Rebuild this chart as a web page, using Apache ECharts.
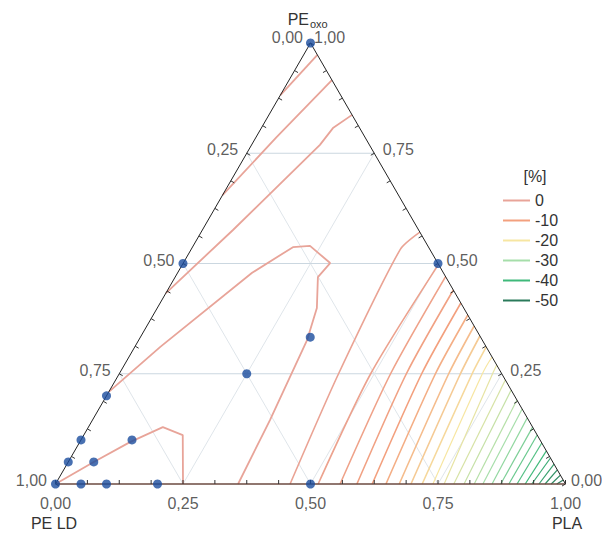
<!DOCTYPE html>
<html><head><meta charset="utf-8">
<script src="https://cdn.jsdelivr.net/npm/echarts@6/dist/echarts.min.js"></script>
<style>html,body{margin:0;padding:0;background:#fff}#c{width:616px;height:534px}</style>
</head><body><div id="c"></div>
<script>
// ---- axis ticks / labels ----
const tickValues = [0, 0.25, 0.5, 0.75, 1];
const tickLabels = ['0,00', '0,25', '0,50', '0,75', '1,00'];
const minorTicks = [0,0.0625,0.125,0.1875,0.25,0.3125,0.375,0.4375,0.5,0.5625,0.625,0.6875,0.75,0.8125,0.875,0.9375,1];
const gridValues = [0.25, 0.5, 0.75];
const axisNames = ['PE LD', 'PLA', 'PE'];
const apexSub = 'oxo';
const legendTitle = '[%]';
// ---- legend ----
const legendLevels = ['0', '-10', '-20', '-30', '-40', '-50'];
const legendColors = ['#e8a499', '#f3a07e', '#f7e6a2', '#a6deaa', '#3fb97a', '#2a7a5a'];
// ---- design points [PLA, PE oxo] ----
const designPoints = [[0,1],[0,0.5],[0.5,0.5],[0,0.2],[0,0.1],[0,0.05],[0,0],[0.05,0],[0.1,0],[0.2,0],[0.5,0],[0.05,0.05],[0.1,0.1],[0.25,0.25],[0.333,0.333]];
// ---- contour lines of level 0 [PLA, PE oxo] ----
const zeroA = [[0.027,0.973],[0,0.882]];
const zeroB = [[0.084,0.916],[0.04,0.786],[0,0.655]];
const zeroC = [[0.163,0.837],[0.1405,0.807],[0.134,0.769],[0.06,0.576],[0,0.433]];
const zeroNose = [[0,0.209],[0.05,0.311],[0.146,0.479],[0.197,0.537],[0.229,0.540],[0.288,0.501],[0.280,0.469],[0.313,0.399],[0.330,0.327],[0.348,0.145],[0.358,0]];
const zeroCorner = [[0,0],[0.05,0.05],[0.0985,0.095],[0.146,0.129],[0.194,0.111],[0.25,0]];
// ---- decreasing contour lines [PLA, PE oxo] ----
const contourLevels = [-2,-4,-6,-8,-10,-12,-14,-16,-18,-20,-22,-24,-26,-28,-30,-32,-34,-36,-38,-40,-42,-44,-46,-48,-50];
const contourLines = [
  [[0.460,0],[0.430,0.25],[0.410,0.531],[0.429,0.571]],
  [[0.515,0],[0.493,0.25],[0.502,0.498]],
  [[0.558,0],[0.532,0.25],[0.5297,0.4703]],
  [[0.591,0],[0.563,0.25],[0.5601,0.4399]],
  [[0.621,0],[0.593,0.25],[0.5896,0.4104]],
  [[0.648,0],[0.620,0.25],[0.6168,0.3832]],
  [[0.674,0],[0.646,0.25],[0.6417,0.3583]],
  [[0.697,0],[0.669,0.25],[0.6644,0.3356]],
  [[0.719,0],[0.692,0.25],[0.6893,0.3107]],
  [[0.740,0],[0.712,0.25],[0.7120,0.2880]],
  [[0.762,0],[0.732,0.25],[0.7302,0.2698]],
  [[0.781,0],[0.764,0.236]],
  [[0.801,0],[0.787,0.213]],
  [[0.821,0],[0.8095,0.1905]],
  [[0.838,0],[0.830,0.170]],
  [[0.856,0],[0.850,0.150]],
  [[0.873,0],[0.871,0.129]],
  [[0.889,0],[0.889,0.111]],
  [[0.905,0],[0.907,0.093]],
  [[0.921,0],[0.925,0.075]],
  [[0.934,0],[0.941,0.059]],
  [[0.948,0],[0.955,0.045]],
  [[0.960,0],[0.968,0.032]],
  [[0.972,0],[0.980,0.020]],
  [[0.983,0],[0.991,0.009]]
];

const FONT = '"Liberation Sans", Arial, Helvetica, sans-serif';
const toXY = p => [p[0] + p[1] / 2, p[1]];
function hex(c){return [1,3,5].map(i=>parseInt(c.substr(i,2),16));}
function levelColor(v){
  const s = -v / 10; const i = Math.min(4, Math.floor(s)); const t = s - i;
  const a = hex(legendColors[i]), b = hex(legendColors[Math.min(5,i+1)]);
  return 'rgb(' + a.map((x,k)=>Math.round(x + (b[k]-x)*t)).join(',') + ')';
}
function lineSeries(name, pts, color, width, z, smooth){
  return {type:'line', name, data: pts.map(toXY), symbol:'none', showSymbol:false, clip:false, silent:true,
    smooth: smooth || false, lineStyle:{color, width}, itemStyle:{color}, z: z || 2, animation:false};
}
const series = [];
// grid
gridValues.forEach(g => {
  series.push(lineSeries('', [[0,g],[1-g,g]], '#cbd7e0', 1, 1));
  series.push(lineSeries('', [[g,0],[g,1-g]], '#dfe5ea', 1, 1));
  series.push(lineSeries('', [[1-g,0],[0,1-g]], '#dfe5ea', 1, 1));
});
// zero contours
[zeroA, zeroB, zeroC, zeroNose, zeroCorner].forEach(l => series.push(lineSeries('0', l, legendColors[0], 1.8, 3)));
// other contours
contourLines.forEach((l, i) => {
  const v = contourLevels[i];
  const name = legendLevels.indexOf(String(v)) >= 0 ? String(v) : String(v) + ' ';
  series.push(lineSeries(name, l, levelColor(v), v > -20 ? 1.6 : 1.2, 3, l.length > 2 ? 0.25 : false));
});
// edges
series.push(lineSeries('', [[0,0],[0,1],[1,0]], '#222', 1, 5));
series.push(lineSeries('', [[0,0],[1,0]], '#6b4a40', 1.6, 5));
// ticks
const tickData = [];
minorTicks.forEach(t => {
  tickData.push([t, 0, 0, -1]);
  tickData.push([0, t, 0.866, 0.5]);
  tickData.push([1 - t, t, -0.866, 0.5]);
});
series.push({type:'custom', silent:true, z:6, animation:false, clip:false,
  data: tickData.map(d => [toXY([d[0],d[1]])[0], toXY([d[0],d[1]])[1], d[2], d[3]]),
  encode:{x:0, y:1},
  renderItem: (params, api) => {
    const p = api.coord([api.value(0), api.value(1)]);
    return {type:'line', shape:{x1:p[0], y1:p[1], x2:p[0]+api.value(2)*4, y2:p[1]+api.value(3)*4},
      style:{stroke:'#333', lineWidth:1}};
  }});
// design points
series.push({type:'scatter', data: designPoints.map(toXY), symbolSize:9, itemStyle:{color:'#1a4c9e'}, z:8, silent:true, animation:false, clip:false});
// tick labels
const lab = [];
tickValues.forEach((v, i) => {
  lab.push({name: tickLabels[i], value: toXY([v, 0]), label:{position:'bottom', distance:11}});
  lab.push({name: tickLabels[i], value: toXY([0, 1 - v]), label:{position:'left', distance: v === 0 ? 7 : 8, offset:[0, v === 0 ? -6 : -3.5]}});
  lab.push({name: tickLabels[i], value: toXY([1 - v, v]), label:{position:'right', distance: v === 1 ? 3 : (v === 0 ? 5 : 8), offset:[0, v === 1 ? -6 : -3.5]}});
});
series.push({type:'scatter', data: lab, symbolSize:1, itemStyle:{color:'rgba(0,0,0,0)'}, z:9, silent:true, animation:false, clip:false,
  label:{show:true, formatter:'{b}', fontSize:16, color:'#333', fontFamily:FONT}});

const chart = echarts.init(document.getElementById('c'), null, {renderer:'svg'});
chart.setOption({
  backgroundColor:'#fff',
  animation:false,
  grid:{left:55.5, right:50.5, top:43, bottom:50},
  xAxis:{type:'value', min:0, max:1, show:false},
  yAxis:{type:'value', min:0, max:1, show:false},
  legend:{data: legendLevels, orient:'vertical', left:498, top:187.5, icon:'rect', itemWidth:27, itemHeight:2, itemGap:4,
    selectedMode:false, textStyle:{fontSize:16, color:'#333', fontFamily:FONT}},
  graphic:[
    {type:'text', style:{text: legendTitle, x:535, y:176, align:'center', verticalAlign:'middle', font:'16px ' + FONT, fill:'#333'}},
    {type:'text', style:{text: axisNames[0], x:54, y:523, align:'center', verticalAlign:'middle', font:'16px ' + FONT, fill:'#333'}},
    {type:'text', style:{text: axisNames[1], x:567, y:523, align:'center', verticalAlign:'middle', font:'16px ' + FONT, fill:'#333'}},
    {type:'text', style:{text: axisNames[2], x:309, y:19.5, align:'right', verticalAlign:'middle', font:'16px ' + FONT, fill:'#333'}},
    {type:'text', style:{text: apexSub, x:310, y:24, align:'left', verticalAlign:'middle', font:'11px ' + FONT, fill:'#333'}}
  ],
  series
});
</script></body></html>
